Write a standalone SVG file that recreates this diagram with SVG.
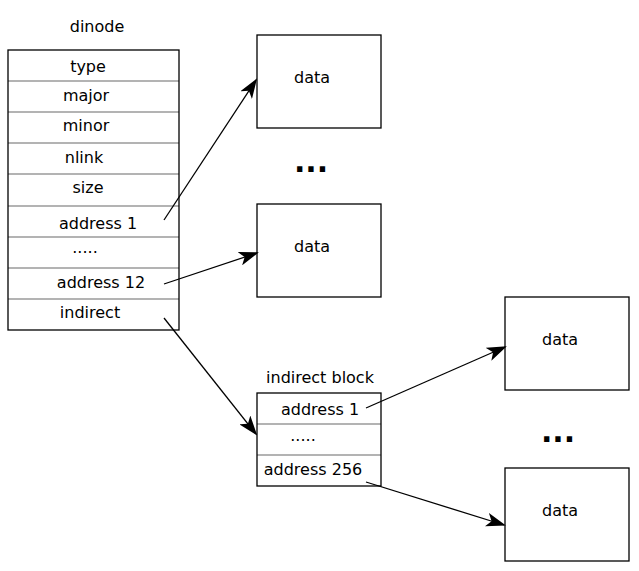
<svg xmlns="http://www.w3.org/2000/svg" width="639" height="571" viewBox="0 0 639 571">
<style>
text{font-family:"DejaVu Sans",sans-serif;font-size:16px;fill:#000;text-anchor:middle}
.box{fill:#fff;stroke:#000;stroke-width:1.3}
.sep{stroke:#000;stroke-width:0.6}
.c{stroke:#000;stroke-width:1.3;fill:none;marker-end:url(#ah)}
.dots{font-size:30px;font-weight:bold}
</style>
<defs><marker id="ah" markerWidth="20" markerHeight="14" refX="18" refY="7" orient="auto" markerUnits="userSpaceOnUse"><path d="M0,0 L20,7 L0,14 L5,7 Z" fill="#000"/></marker></defs>
<rect width="639" height="571" fill="#fff"/>
<g id="dinode">
<text x="97" y="32">dinode</text>
<rect class="box" x="8" y="50" width="171" height="280"/>
<line class="sep" x1="8" y1="81" x2="179" y2="81"/><line class="sep" x1="8" y1="112" x2="179" y2="112"/>
<line class="sep" x1="8" y1="143" x2="179" y2="143"/><line class="sep" x1="8" y1="174" x2="179" y2="174"/>
<line class="sep" x1="8" y1="206" x2="179" y2="206"/><line class="sep" x1="8" y1="237" x2="179" y2="237"/>
<line class="sep" x1="8" y1="268" x2="179" y2="268"/><line class="sep" x1="8" y1="299" x2="179" y2="299"/>
<text x="88" y="72">type</text><text x="86" y="101">major</text><text x="86" y="131">minor</text>
<text x="84" y="163">nlink</text><text x="88" y="193">size</text><text x="98" y="229">address 1</text>
<text x="85" y="253">.....</text><text x="101" y="288">address 12</text><text x="90" y="318">indirect</text>
</g>
<g id="data1"><rect class="box" x="257" y="35" width="124" height="93"/><text x="312" y="83">data</text></g>
<g id="data2"><rect class="box" x="257" y="204" width="124" height="93"/><text x="312" y="252">data</text></g>
<g id="data3"><rect class="box" x="505" y="297" width="124" height="93"/><text x="560" y="345">data</text></g>
<g id="data4"><rect class="box" x="505" y="468" width="124" height="93"/><text x="560" y="516">data</text></g>
<g id="indirect">
<text x="320" y="383">indirect block</text>
<rect class="box" x="257" y="393" width="124" height="93"/>
<line class="sep" x1="257" y1="424" x2="381" y2="424"/><line class="sep" x1="257" y1="455" x2="381" y2="455"/>
<text x="320" y="415">address 1</text><text x="303" y="441">.....</text><text x="313" y="475">address 256</text>
</g>
<text class="dots" x="311" y="172">...</text>
<text class="dots" x="558" y="442">...</text>
<g id="connectors">
<line class="c" x1="164" y1="220" x2="256" y2="80"/>
<line class="c" x1="164" y1="284" x2="257" y2="253"/>
<line class="c" x1="164" y1="318" x2="256" y2="434"/>
<line class="c" x1="366" y1="408" x2="505" y2="347"/>
<line class="c" x1="366" y1="482" x2="504" y2="525"/>
</g>
</svg>
